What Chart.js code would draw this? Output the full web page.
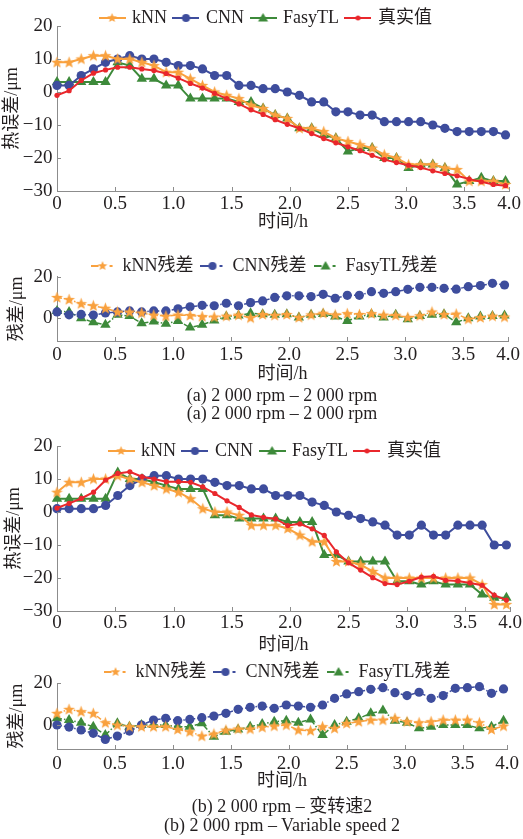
<!DOCTYPE html>
<html>
<head>
<meta charset="utf-8">
<script src="https://cdn.jsdelivr.net/npm/chart.js@4.4.1/dist/chart.umd.min.js"></script>
<style>
  body { margin: 0; background: #fff; width: 523px; height: 839px; position: relative; overflow: hidden;
         font-family: "Liberation Serif", "Noto Sans CJK SC", serif; color: #231f20; }
  canvas { position: absolute; left: 0; }
  .cap { position: absolute; left: 0; width: 564px; text-align: center; font-size: 18px; line-height: 18px; white-space: nowrap; }
</style>
</head>
<body>
<canvas id="chartA" width="523" height="236" style="top:0px"></canvas>
<canvas id="chartB" width="523" height="146" style="top:240px"></canvas>
<canvas id="chartC" width="523" height="236" style="top:420px"></canvas>
<canvas id="chartD" width="523" height="142" style="top:650px"></canvas>
<div class="cap" style="top:386px">(a) 2 000 rpm – 2 000 rpm</div>
<div class="cap" style="top:404px">(a) 2 000 rpm – 2 000 rpm</div>
<div class="cap" style="top:797px">(b) 2 000 rpm – 变转速2</div>
<div class="cap" style="top:816px">(b) 2 000 rpm – Variable speed 2</div>
<script>
// time axis, one sample every 6.25 min
const time = [0, 0.104, 0.208, 0.313, 0.417, 0.521, 0.625, 0.729, 0.833, 0.938,
  1.042, 1.146, 1.25, 1.354, 1.458, 1.563, 1.667, 1.771, 1.875, 1.979,
  2.083, 2.188, 2.292, 2.396, 2.5, 2.604, 2.708, 2.813, 2.917, 3.021,
  3.125, 3.229, 3.333, 3.438, 3.542, 3.646, 3.75, 3.854];
const xTickValues = [0, 0.5, 1, 1.5, 2, 2.5, 3, 3.5, 3.885];
const xTickLabels = ['0', '0.5', '1.0', '1.5', '2.0', '2.5', '3.0', '3.5', '4.0'];
const mainYTicks = [-30, -20, -10, 0, 10, 20];
const resYTicks = [0, 20];

const mainNames = ['kNN', 'CNN', 'FasyTL', '真实值'];
const resNames = ['kNN残差', 'CNN残差', 'FasyTL残差'];

// (a) 2000 rpm - 2000 rpm
const aKnn = [9, 9, 10, 11, 11, 10, 10, 9, 8, 6, 6, 4, 2, 0, -1, -2, -4, -5, -7, -8,
  -11, -11, -12, -14, -15, -16, -17, -19, -20, -22, -22, -22, -23, -23.5, -27, -27, -27, -28];
const aCnn = [2, 2, 5, 7, 9, 10, 11, 10, 10, 9, 8, 8, 7, 5, 5, 2, 2, 1, 1, 0,
  -1, -3, -3, -6, -6, -7, -7, -9, -9, -9, -9, -10, -11, -12, -12, -12, -12, -13];
const aFasy = [3, 3, 3, 3, 3, 9, 8, 4, 4, 2, 2, -2, -2, -2, -2, -3, -3, -5, -7, -8,
  -11, -11, -13, -14, -18, -17, -17, -20, -20, -23, -22, -22, -23, -28, -27, -26, -27, -27];
const aReal = [-1, 0.4, 3.5, 5.7, 6.7, 7.5, 7.5, 7, 6.5, 5.6, 4.2, 2.6, 1.2, -0.4, -2, -3.6, -5.4, -6.8, -8.4, -9.8,
  -11, -12.6, -14.1, -15.4, -16.6, -17.8, -19.2, -20.5, -21.4, -22.2, -22.9, -23.9, -24.7, -25.4, -26.4, -27.2, -28, -28.4];
const aKnnRes = [10, 9, 7, 6, 4.8, 3, 3, 2.5, 1.5, 1, 1.5, 1.3, 0.8, 0.6, 1, 1.5, 0.2, 1.8, 1.4, 1.8,
  0.3, 1.6, 2.4, 1.6, 2.2, 1.8, 2.2, 1.5, 1.4, 0.4, 1.2, 3, 1.8, 2, -0.4, 0.3, 1, 0.6];
const aCnnRes = [3, 1.6, 1.8, 1.5, 2.5, 3, 3.5, 3, 3.5, 3.5, 4.5, 5.5, 6.2, 6, 7.2, 6, 7.5, 8.3, 10, 10.8,
  10.8, 10.4, 11.5, 9.6, 11, 11, 12.8, 12, 12.8, 13.9, 14.9, 14.9, 14.4, 14, 15.2, 15.7, 16.8, 16];
const aFasyRes = [3.5, 3, 0, -2, -3.2, 1.6, 1, -2.4, -1.6, -2.7, -1.3, -4.5, -3.2, -1.1, 0.8, 1.3, 2.4, 1.9, 1.6, 1.9,
  0.3, 1.6, 2, 0.8, -1.3, 0.8, 1.9, 0.3, 1.6, -0.5, 1.1, 1.6, 1.9, -2, 0, 0.8, 1.1, 1.3];

// (b) 2000 rpm - variable speed 2
const bKnn = [6, 9, 9, 10, 10, 11, 10, 9, 8, 7, 6, 4, 1, 0, 0, -1, -4, -4, -4, -5,
  -7, -9, -9, -15, -15, -16, -18, -20, -20, -20, -20, -20, -20, -20, -20, -22, -28, -28];
const bCnn = [1, 1, 1, 1, 2, 5, 8, 10, 11, 11, 10, 10, 10, 9, 8, 8, 7, 7, 5, 5,
  5, 3, 2, 0, -1, -2, -3, -4, -7, -7, -4, -7, -7, -4, -4, -4, -10, -10];
const bFasy = [4, 4, 4, 4, 4, 12, 10, 10, 9, 8, 7, 7, 7, -1, -1, -2, -2, -2, -2, -3,
  -3, -3, -13, -13, -15, -15, -15, -15, -21, -21, -22, -21, -22, -22, -22, -25, -26, -26];
const bReal = [1.2, 2.6, 4.1, 6, 9.7, 11.7, 12.2, 10.7, 10, 9.2, 9.2, 9, 7.6, 5.6, 3.4, 1.4, -0.9, -1.6, -2.1, -4.1,
  -3.6, -5.1, -7.1, -12.1, -15.4, -17.6, -19.9, -21.7, -22, -21, -19.7, -19.5, -20.7, -20.9, -21.5, -22.2, -25.2, -26.7];
const bKnnRes = [5.6, 7.5, 6.4, 5.6, 1.1, 0, -0.8, -0.8, -0.8, -0.8, -2.1, -3.2, -5.3, -4.3, -2.4, -1.9, -1.9, -1.1, -0.5, 0,
  -2.4, -2.7, -0.8, -1.6, 0.8, 1.6, 2.4, 2.4, 3.2, 1.6, 1.1, 1.6, 2.4, 2.4, 2.4, 1.1, -2.1, -0.5];
const bCnnRes = [0, -1, -2.4, -4, -6.9, -5.3, -2.9, 0, 2.4, 3.2, 2.1, 2.7, 3.5, 4.3, 5.6, 7.5, 8.5, 9.1, 8, 9.6,
  9.1, 8.5, 9.6, 12.8, 14.9, 16, 17.1, 17.9, 15.5, 14.1, 15.7, 12.8, 14.1, 17.6, 17.9, 18.4, 15.2, 17.3];
const bFasyRes = [3.2, 2.4, 1.1, -0.8, -4.8, 0.8, -0.8, 0, 0, 0, -0.8, -0.8, 0.8, -5.6, -3.2, -2.1, -0.8, 0.5, 1.6, 2.1,
  1.1, 2.7, -4.8, 0, 1.6, 3.2, 5.6, 6.9, 2.1, 1.1, -1.6, -0.8, 0, 0, 0, -1.6, -0.8, 2.1];

const ORANGE = '#f9a13e';
const BLUE = '#3e4d9d';
const GREEN = '#3d8a3a';
const RED = '#e9272c';
const AXIS = '#8c8c8c';
const TEXT = '#231f20';
const FONT = '"Liberation Serif", "Noto Sans CJK SC", serif';

Chart.defaults.font.family = FONT;
Chart.defaults.font.size = 18;
Chart.defaults.color = TEXT;

function drawMarker(g, kind, cx, cy, color) {
  g.fillStyle = color;
  g.beginPath();
  if (kind === 'star') {
    for (let k = 0; k < 10; k++) {
      const r = k % 2 ? 2.2 : 5;
      const a = -Math.PI / 2 + k * Math.PI / 5;
      g.lineTo(cx + r * Math.cos(a), cy + r * Math.sin(a));
    }
  } else if (kind === 'circle') {
    g.arc(cx, cy, 4, 0, Math.PI * 2);
  } else if (kind === 'triangle') {
    g.moveTo(cx, cy - 5);
    g.lineTo(cx + 5, cy + 3.5);
    g.lineTo(cx - 5, cy + 3.5);
  } else {
    g.arc(cx, cy, 2.5, 0, Math.PI * 2);
  }
  g.closePath();
  g.fill();
}

// filled five point star used for the kNN points
function starPoint(color) {
  const c = document.createElement('canvas');
  c.width = c.height = 13;
  const g = c.getContext('2d');
  g.fillStyle = color;
  g.beginPath();
  for (let k = 0; k < 10; k++) {
    const r = k % 2 ? 2.6 : 6.2;
    const a = -Math.PI / 2 + k * Math.PI / 5;
    g.lineTo(6.5 + r * Math.cos(a), 6.8 + r * Math.sin(a));
  }
  g.closePath();
  g.fill();
  return c;
}

// line + marker swatch for the legend
function legendIcon(color, kind, dashed) {
  const c = document.createElement('canvas');
  c.width = dashed ? 24 : 27;
  c.height = 14;
  const g = c.getContext('2d');
  g.strokeStyle = color;
  g.lineWidth = 2;
  g.beginPath();
  if (dashed) {
    g.moveTo(0, 7); g.lineTo(8, 7);
    g.moveTo(19, 7); g.lineTo(22, 7);
  } else {
    g.moveTo(0, 7); g.lineTo(27, 7);
  }
  g.stroke();
  drawMarker(g, kind, c.width / 2, 7, color);
  return c;
}

const starImg = starPoint(ORANGE);
const mainIcons = [legendIcon(ORANGE, 'star'), legendIcon(BLUE, 'circle'), legendIcon(GREEN, 'triangle'), legendIcon(RED, 'dot')];
const resIcons = [legendIcon(ORANGE, 'star', true), legendIcon(BLUE, 'circle', true), legendIcon(GREEN, 'triangle', true)];

// legend takes a fixed slice of height, may overlap the plot, and can be nudged sideways
const fixLegend = {
  id: 'fixLegend',
  beforeInit(chart, args, opts) {
    const lg = chart.legend;
    const fit = lg.fit;
    lg.fit = function () { fit.call(this); this.height = opts.height; };
  },
  afterLayout(chart, args, opts) {
    const lg = chart.legend;
    lg.left += opts.shift;
    lg.right += opts.shift;
    lg.bottom = lg.top + 60;
  }
};

// short tick marks pointing into the plot
const innerTicks = {
  id: 'innerTicks',
  afterDraw(chart) {
    const { ctx, chartArea, scales: { x, y } } = chart;
    ctx.save();
    ctx.strokeStyle = AXIS;
    ctx.lineWidth = 1;
    ctx.beginPath();
    x.ticks.forEach(t => {
      const px = Math.round(x.getPixelForValue(t.value)) + 0.5;
      ctx.moveTo(px, chartArea.bottom);
      ctx.lineTo(px, chartArea.bottom - 4);
    });
    y.ticks.forEach(t => {
      const py = Math.round(y.getPixelForValue(t.value)) + 0.5;
      ctx.moveTo(chartArea.left, py);
      ctx.lineTo(chartArea.left + 4, py);
    });
    ctx.stroke();
    ctx.restore();
  }
};

function series(label, values, color, kind, residual, order) {
  const ds = {
    label, data: values, borderColor: color, backgroundColor: color,
    borderWidth: residual ? 1.5 : 2, pointBorderWidth: 0, clip: false, order,
    tension: 0
  };
  if (residual) ds.borderDash = [5, 2, 1.5, 2];
  if (kind === 'star') { ds.pointStyle = starImg; }
  else if (kind === 'circle') { ds.pointStyle = 'circle'; ds.pointRadius = 4.6; }
  else if (kind === 'triangle') { ds.pointStyle = 'triangle'; ds.pointRadius = 6; }
  else { ds.pointStyle = 'circle'; ds.pointRadius = 2.6; }
  return ds;
}

function makeChart(id, datasets, icons, yTitle, yMin, yMax, yTicks, geo) {
  const canvas = document.getElementById(id);
  return new Chart(canvas, {
    type: 'line',
    data: { labels: time, datasets },
    options: {
      responsive: false,
      animation: false,
      events: [],
      layout: { padding: { top: geo.padTop, left: 0, right: 13, bottom: 0 } },
      plugins: {
        tooltip: { enabled: false },
        fixLegend: { height: geo.legendH, shift: geo.shift },
        legend: {
          position: 'top',
          labels: {
            usePointStyle: true,
            pointStyleWidth: 22,
            padding: 8,
            font: { size: 18 },
            color: TEXT,
            sort: (a, b) => a.datasetIndex - b.datasetIndex,
            generateLabels(chart) {
              const items = Chart.defaults.plugins.legend.labels.generateLabels(chart);
              items.forEach(it => { it.pointStyle = icons[it.datasetIndex]; });
              return items;
            }
          }
        }
      },
      scales: {
        x: {
          type: 'linear', min: 0, max: 3.885,
          grid: { display: false, drawTicks: false },
          border: { display: true, color: AXIS, width: 1 },
          afterBuildTicks: s => { s.ticks = xTickValues.map(v => ({ value: v })); },
          afterFit: s => { s.height = geo.xAxisH; },
          ticks: {
            autoSkip: false, maxRotation: 0, padding: geo.xLabelPad,
            font: { size: 19 }, color: TEXT,
            callback: (v, i) => xTickLabels[i]
          },
          title: { display: true, text: '时间/h', font: { size: 18 }, color: TEXT,
                   padding: { top: 0, bottom: geo.xTitlePad } }
        },
        y: {
          min: yMin, max: yMax,
          grid: { display: false, drawTicks: false },
          border: { display: true, color: AXIS, width: 1 },
          afterBuildTicks: s => { s.ticks = yTicks.map(v => ({ value: v })); },
          afterFit: s => { s.width = 57; },
          ticks: {
            padding: 4.5, font: { size: 19 }, color: TEXT,
            callback: v => String(v).replace('-', '\u2212')
          },
          title: { display: true, text: yTitle, font: { size: 18 }, color: TEXT,
                   padding: { top: geo.yTitlePad, bottom: 0 } }
        }
      }
    },
    plugins: [fixLegend, innerTicks]
  });
}

makeChart('chartA', [
  series(mainNames[0], aKnn, ORANGE, 'star', false, 1),
  series(mainNames[1], aCnn, BLUE, 'circle', false, 2),
  series(mainNames[2], aFasy, GREEN, 'triangle', false, 3),
  series(mainNames[3], aReal, RED, 'dot', false, 0)
], mainIcons, '热误差/μm', -30, 20, mainYTicks,
  { padTop: 1, legendH: 25, shift: 11.5, xAxisH: 45, xLabelPad: 2, xTitlePad: 2.7, yTitlePad: 1.7 });

makeChart('chartB', [
  series(resNames[0], aKnnRes, ORANGE, 'star', true, 1),
  series(resNames[1], aCnnRes, BLUE, 'circle', true, 2),
  series(resNames[2], aFasyRes, GREEN, 'triangle', true, 3)
], resIcons, '残差/μm', -11, 20, resYTicks,
  { padTop: 9, legendH: 27.7, shift: 9.5, xAxisH: 45, xLabelPad: 3, xTitlePad: 0.7, yTitlePad: 6.7 });

makeChart('chartC', [
  series(mainNames[0], bKnn, ORANGE, 'star', false, 1),
  series(mainNames[1], bCnn, BLUE, 'circle', false, 2),
  series(mainNames[2], bFasy, GREEN, 'triangle', false, 3),
  series(mainNames[3], bReal, RED, 'dot', false, 0)
], mainIcons, '热误差/μm', -30, 20, mainYTicks,
  { padTop: 14, legendH: 12, shift: 20.5, xAxisH: 45, xLabelPad: 1, xTitlePad: 0, yTitlePad: 3.7 });

makeChart('chartD', [
  series(resNames[0], bKnnRes, ORANGE, 'star', true, 1),
  series(resNames[1], bCnnRes, BLUE, 'circle', true, 2),
  series(resNames[2], bFasyRes, GREEN, 'triangle', true, 3)
], resIcons, '残差/μm', -11.5, 20, resYTicks,
  { padTop: 5, legendH: 28.3, shift: 22.5, xAxisH: 43, xLabelPad: 4, xTitlePad: 0, yTitlePad: 6.7 });
</script>
</body>
</html>
